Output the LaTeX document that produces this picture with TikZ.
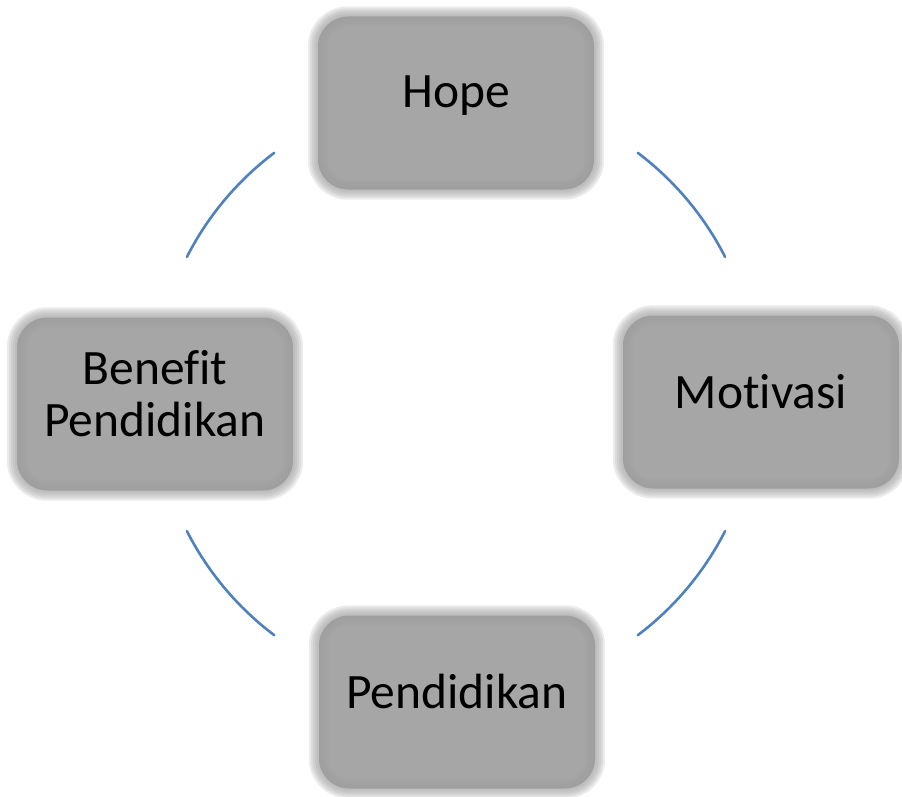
\documentclass[tikz,border=0pt]{standalone}
\usepackage{fontspec}
\setmainfont[Ligatures=NoCommon]{Carlito}
\usetikzlibrary{calc}

\definecolor{boxgray}{HTML}{A6A6A6}
\definecolor{arcblue}{HTML}{4F81BD}

\begin{document}
\begin{tikzpicture}[x=1pt,y=-1pt,
    stage/.style={rectangle, rounded corners=30pt, fill=boxgray,
      minimum width=276pt, minimum height=173pt, align=center,
      text depth=22pt,
      font=\fontsize{49.5}{52}\selectfont, text=black},
    soft/.style={draw=black!38, rounded corners=30pt, draw opacity=0.2},
    link/.style={draw=arcblue, line width=2.6pt, line cap=round}]
    % Keep the page at the size of the reference
    \useasboundingbox (0,0) rectangle (902,797);

    % The four stages
    \node[stage] (hope) at (456,103) {Hope};
    \node[stage] (motivasi) at (761,402) {Motivasi};
    \node[stage] (pendidikan) at (457,702) {Pendidikan};
    \node[stage] (benefit) at (155,404) {Benefit\\Pendidikan};

    % Soft edges round the boxes
    \foreach \b in {hope,motivasi,pendidikan,benefit}{
      \foreach \w in {20,16,12,8,4}{
        \draw[soft, line width=\w pt] (\b.south west) rectangle (\b.north east);
      }
    }

    % Centre of the ring
    \coordinate (ctr) at (456,394);

    % Arcs between the stages
    \draw[link] ($(ctr)+(53:302pt)$) arc[start angle=53, end angle=27, radius=302pt];
    \draw[link] ($(ctr)+(333:302pt)$) arc[start angle=333, end angle=307, radius=302pt];
    \draw[link] ($(ctr)+(233:302pt)$) arc[start angle=233, end angle=207, radius=302pt];
    \draw[link] ($(ctr)+(153:302pt)$) arc[start angle=153, end angle=127, radius=302pt];
\end{tikzpicture}
\end{document}
